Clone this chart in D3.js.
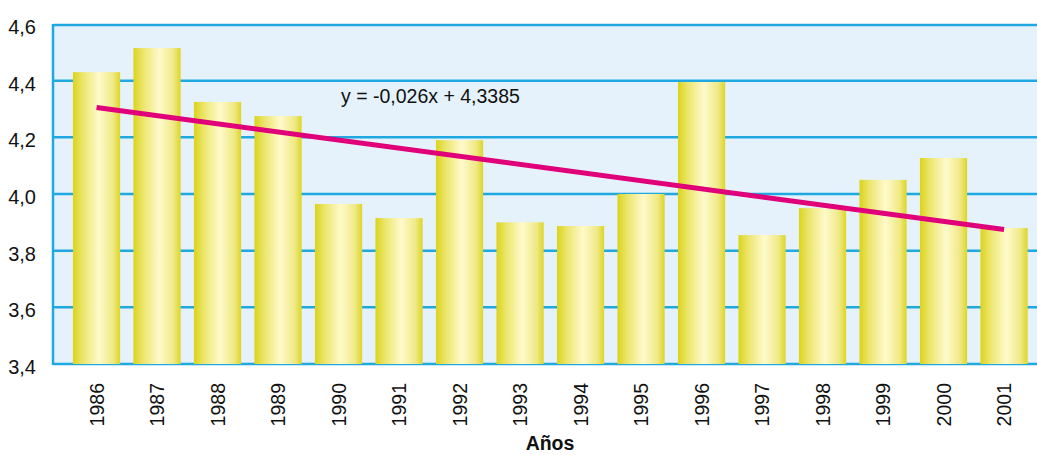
<!DOCTYPE html>
<meta charset="utf-8">
<head>
  <script src="https://d3js.org/d3.v7.min.js"></script>
  <style>
    body { margin: 0; background: #fff; }
    text { font-family: "Liberation Sans", Arial, sans-serif; }
  </style>
</head>
<body>
  <div id="my_dataviz"></div>
</body>
<script>
  // data
  var years = ["1986", "1987", "1988", "1989", "1990", "1991", "1992", "1993",
               "1994", "1995", "1996", "1997", "1998", "1999", "2000", "2001"];
  var values = [4.43, 4.515, 4.325, 4.275, 3.965, 3.915, 4.19, 3.90,
                3.887, 4.00, 4.395, 3.855, 3.95, 4.05, 4.127, 3.88];
  var yTicks = [3.4, 3.6, 3.8, 4.0, 4.2, 4.4, 4.6];
  // trend line end points as drawn
  var trendYears = ["1986", "2001"];
  var trendValues = [4.305, 3.875];
  var equation = "y = -0,026x + 4,3385";
  var xTitle = "Años";

  var W = 1037, H = 455;
  var plotLeft = 53, plotRight = 1037, plotTop = 24, plotBottom = 364;

  var svg = d3.select("#my_dataviz")
    .append("svg")
    .attr("width", W)
    .attr("height", H);

  var defs = svg.append("defs");
  var grad = defs.append("linearGradient")
    .attr("id", "barGrad")
    .attr("x1", "0%").attr("x2", "100%").attr("y1", "0%").attr("y2", "0%");
  grad.append("stop").attr("offset", "0%").attr("stop-color", "#dcd31a");
  grad.append("stop").attr("offset", "20%").attr("stop-color", "#ebe56a");
  grad.append("stop").attr("offset", "55%").attr("stop-color", "#fffacb");
  grad.append("stop").attr("offset", "85%").attr("stop-color", "#efe986");
  grad.append("stop").attr("offset", "100%").attr("stop-color", "#ded526");

  // scales
  var x = d3.scaleBand()
    .domain(years)
    .range([66.3, 1034.3])
    .paddingInner(0.22)
    .paddingOuter(0.11);

  var y = d3.scaleLinear()
    .domain([3.4, 4.6])
    .range([plotBottom, plotTop]);

  // plot background
  svg.append("rect")
    .attr("x", plotLeft)
    .attr("y", y(4.6) + 1)
    .attr("width", plotRight - plotLeft)
    .attr("height", plotBottom - y(4.6) - 1)
    .attr("fill", "#e5f2fb");

  // gridlines
  svg.selectAll("gridline")
    .data(yTicks)
    .enter()
    .append("line")
    .attr("x1", plotLeft)
    .attr("x2", plotRight)
    .attr("y1", function (d) { return y(d) + (d === 4.6 ? 1 : 0); })
    .attr("y2", function (d) { return y(d) + (d === 4.6 ? 1 : 0); })
    .attr("stroke", "#20a9e1")
    .attr("stroke-width", 2.5);

  // left border
  svg.append("line")
    .attr("x1", plotLeft).attr("x2", plotLeft)
    .attr("y1", y(4.6)).attr("y2", plotBottom + 1)
    .attr("stroke", "#20a9e1")
    .attr("stroke-width", 2.5);

  // y tick labels
  svg.selectAll("ylabel")
    .data(yTicks)
    .enter()
    .append("text")
    .attr("x", 36)
    .attr("y", function (d) { return y(d) + 10; })
    .attr("text-anchor", "end")
    .attr("font-size", "20px")
    .attr("fill", "#111")
    .text(function (d) { return d3.format(".1f")(d).replace(".", ","); });

  // bars
  svg.selectAll("mybar")
    .data(values)
    .enter()
    .append("rect")
    .attr("x", function (d, i) { return x(years[i]); })
    .attr("y", function (d) { return y(d); })
    .attr("width", x.bandwidth())
    .attr("height", function (d) { return plotBottom - y(d); })
    .attr("fill", "url(#barGrad)");

  // trend line
  var line = d3.line()
    .x(function (d, i) { return x(trendYears[i]) + x.bandwidth() / 2; })
    .y(function (d) { return y(d); });
  svg.append("path")
    .datum(trendValues)
    .attr("d", line)
    .attr("fill", "none")
    .attr("stroke", "#e0007a")
    .attr("stroke-width", 5);

  // equation
  svg.append("text")
    .attr("x", 341)
    .attr("y", 103)
    .attr("font-size", "19.5px")
    .attr("fill", "#111")
    .text(equation);

  // x tick labels (rotated)
  svg.selectAll("xlabel")
    .data(years)
    .enter()
    .append("text")
    .attr("transform", function (d) {
      return "translate(" + (x(d) + x.bandwidth() / 2 + 7) + ",383)rotate(-90)";
    })
    .attr("text-anchor", "end")
    .attr("font-size", "19.5px")
    .attr("fill", "#111")
    .text(function (d) { return d; });

  // x title
  svg.append("text")
    .attr("x", 550)
    .attr("y", 450)
    .attr("text-anchor", "middle")
    .attr("font-size", "19.5px")
    .attr("font-weight", "bold")
    .attr("fill", "#111")
    .text(xTitle);
</script>
